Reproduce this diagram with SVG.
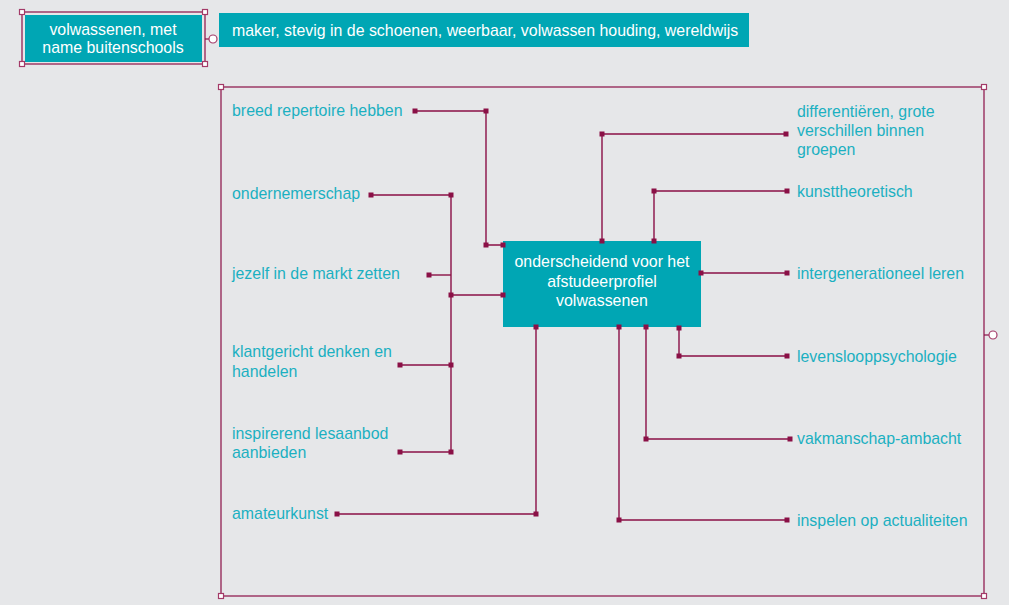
<svg xmlns="http://www.w3.org/2000/svg" width="1009" height="605" viewBox="0 0 1009 605">
<style>
.bg{fill:#e6e7e9}
.teal{fill:#00a6b4}
.wt{font-family:"Liberation Sans",Arial,sans-serif;font-size:15.9px;fill:#ffffff}
.lt{font-family:"Liberation Sans",Arial,sans-serif;font-size:15.9px;fill:#1bb0c1}
.ln{fill:none;stroke:#8a1046;stroke-width:1.4}
.fr{fill:none;stroke:#8a1046;stroke-width:1.2}
.dot{fill:#8a1046}
.h{fill:#ffffff;stroke:#a33a68;stroke-width:1.2}
</style>
<defs>
<rect id="sq" x="-2.5" y="-2.5" width="5" height="5" class="dot"/>
<rect id="hd" x="-2.5" y="-2.5" width="5" height="5" class="h"/>
</defs>
<rect class="bg" x="0" y="0" width="1009" height="605"/>

<g id="node-volwassenen">
<rect class="teal" x="25" y="15" width="177" height="47"/>
<rect class="fr" x="22" y="12" width="183" height="52"/>
<text class="wt" x="113" y="35" text-anchor="middle">volwassenen, met</text>
<text class="wt" x="113" y="53" text-anchor="middle">name buitenschools</text>
<use href="#hd" x="22" y="12"/><use href="#hd" x="205" y="12"/>
<use href="#hd" x="22" y="64"/><use href="#hd" x="205" y="64"/>
<line class="fr" x1="205" y1="39" x2="209" y2="39"/>
<circle cx="213" cy="39" r="4" class="h"/>
</g>

<g id="node-maker">
<rect class="teal" x="219" y="13" width="530" height="34"/>
<text class="wt" x="232" y="36">maker, stevig in de schoenen, weerbaar, volwassen houding, wereldwijs</text>
</g>

<g id="frame">
<rect class="fr" x="221" y="87" width="763" height="509"/>
<use href="#hd" x="221" y="87"/><use href="#hd" x="984" y="87"/>
<use href="#hd" x="221" y="596"/><use href="#hd" x="984" y="596"/>
<line class="fr" x1="984" y1="335" x2="989" y2="335"/>
<circle cx="993" cy="335" r="4" class="h"/>
</g>

<g id="node-center">
<rect class="teal" x="503" y="241" width="198" height="86"/>
<text class="wt" x="602" y="267" text-anchor="middle">onderscheidend voor het</text>
<text class="wt" x="602" y="287" text-anchor="middle">afstudeerprofiel</text>
<text class="wt" x="602" y="306" text-anchor="middle">volwassenen</text>
</g>

<g id="connectors">
<polyline class="ln" points="415,111 486,111 486,245 503,245"/>
<polyline class="ln" points="371,195 451,195 451,452"/>
<line class="ln" x1="429" y1="275" x2="451" y2="275"/>
<line class="ln" x1="451" y1="295" x2="503" y2="295"/>
<line class="ln" x1="400" y1="365" x2="451" y2="365"/>
<line class="ln" x1="400" y1="452" x2="451" y2="452"/>
<polyline class="ln" points="337,514 536,514 536,327"/>
<polyline class="ln" points="786,134 602,134 602,241"/>
<polyline class="ln" points="787,191 654,191 654,241"/>
<line class="ln" x1="701" y1="273" x2="787" y2="273"/>
<polyline class="ln" points="679,328 679,356 787,356"/>
<polyline class="ln" points="646,327 646,439 790,439"/>
<polyline class="ln" points="619,327 619,520 787,520"/>

<use href="#sq" x="415" y="111"/><use href="#sq" x="486" y="111"/><use href="#sq" x="486" y="245"/><use href="#sq" x="503" y="245"/>
<use href="#sq" x="371" y="195"/><use href="#sq" x="451" y="195"/>
<use href="#sq" x="429" y="275"/>
<use href="#sq" x="451" y="295"/><use href="#sq" x="503" y="295"/>
<use href="#sq" x="400" y="365"/><use href="#sq" x="451" y="365"/>
<use href="#sq" x="400" y="452"/><use href="#sq" x="451" y="452"/>
<use href="#sq" x="337" y="514"/><use href="#sq" x="536" y="514"/><use href="#sq" x="536" y="327"/>
<use href="#sq" x="786" y="134"/><use href="#sq" x="602" y="134"/><use href="#sq" x="602" y="241"/>
<use href="#sq" x="787" y="191"/><use href="#sq" x="654" y="191"/><use href="#sq" x="654" y="241"/>
<use href="#sq" x="701" y="273"/><use href="#sq" x="787" y="273"/>
<use href="#sq" x="679" y="328"/><use href="#sq" x="679" y="356"/><use href="#sq" x="787" y="356"/>
<use href="#sq" x="646" y="327"/><use href="#sq" x="646" y="439"/><use href="#sq" x="790" y="439"/>
<use href="#sq" x="619" y="327"/><use href="#sq" x="619" y="520"/><use href="#sq" x="787" y="520"/>
</g>

<g id="node-breed"><text class="lt" x="232" y="116">breed repertoire hebben</text></g>
<g id="node-ondernemerschap"><text class="lt" x="232" y="199">ondernemerschap</text></g>
<g id="node-jezelf"><text class="lt" x="232" y="279">jezelf in de markt zetten</text></g>
<g id="node-klantgericht"><text class="lt" x="232" y="357">klantgericht denken en</text><text class="lt" x="232" y="377">handelen</text></g>
<g id="node-inspirerend"><text class="lt" x="232" y="439">inspirerend lesaanbod</text><text class="lt" x="232" y="458">aanbieden</text></g>
<g id="node-amateurkunst"><text class="lt" x="232" y="519">amateurkunst</text></g>
<g id="node-differentieren"><text class="lt" x="797" y="117">differentiëren, grote</text><text class="lt" x="797" y="136">verschillen binnen</text><text class="lt" x="797" y="155">groepen</text></g>
<g id="node-kunsttheoretisch"><text class="lt" x="797" y="197">kunsttheoretisch</text></g>
<g id="node-intergenerationeel"><text class="lt" x="797" y="279">intergenerationeel leren</text></g>
<g id="node-levensloop"><text class="lt" x="797" y="362">levenslooppsychologie</text></g>
<g id="node-vakmanschap"><text class="lt" x="797" y="444">vakmanschap-ambacht</text></g>
<g id="node-inspelen"><text class="lt" x="797" y="526">inspelen op actualiteiten</text></g>
</svg>
